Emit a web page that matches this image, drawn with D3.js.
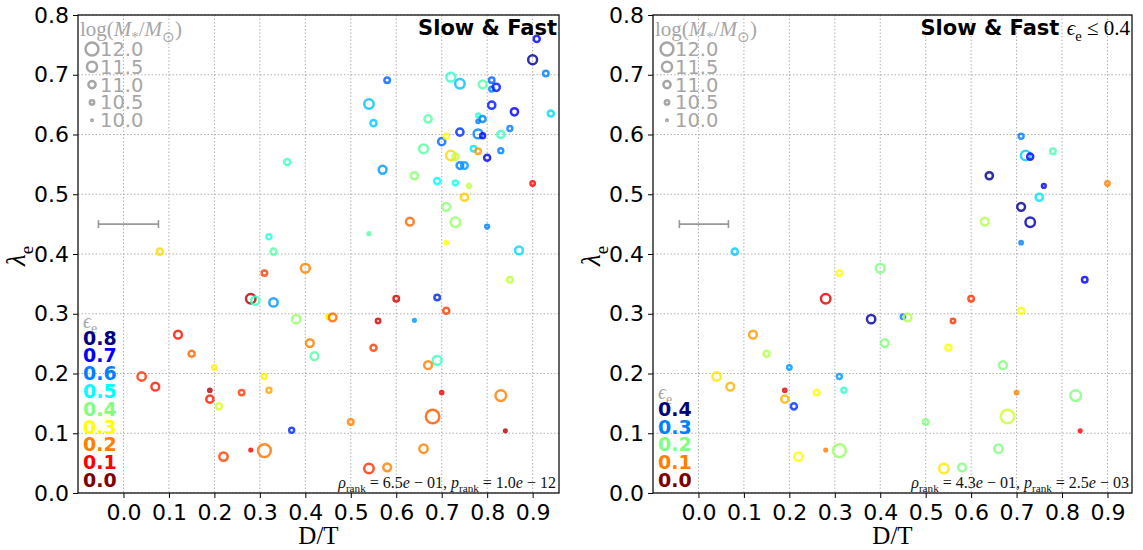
<!DOCTYPE html>
<html>
<head>
<meta charset="utf-8">
<script src="https://cdn.jsdelivr.net/npm/d3@7"></script>
<style>
  body { margin: 0; background: #fff; }
</style>
</head>
<body>
<div id="chart"></div>
<script>
// galaxy values: D/T, lambda_e, epsilon_e, log stellar mass
var dtValues = [0.909,0.900,0.929,0.580,0.720,0.740,0.790,0.810,0.810,0.820,
  0.540,0.810,0.860,0.940,0.550,0.670,0.780,0.790,0.780,0.850,
  0.740,0.780,0.790,0.830,0.700,0.710,0.660,0.770,0.780,0.830,
  0.720,0.730,0.800,0.360,0.740,0.750,0.570,0.640,0.690,0.730,
  0.760,0.900,0.750,0.710,0.730,0.630,0.540,0.800,0.710,0.870,
  0.320,0.330,0.080,0.400,0.310,0.850,0.280,0.290,0.330,0.600,
  0.690,0.380,0.450,0.460,0.560,0.640,0.710,0.120,0.150,0.410,
  0.420,0.550,0.690,0.670,0.040,0.070,0.200,0.310,0.190,0.190,
  0.210,0.260,0.320,0.700,0.830,0.680,0.500,0.370,0.840,0.280,
  0.310,0.220,0.660,0.540,0.580]
var lambdaValues = [0.760,0.725,0.702,0.691,0.696,0.685,0.684,0.691,0.676,0.679,
  0.651,0.649,0.638,0.635,0.619,0.626,0.632,0.626,0.622,0.610,
  0.604,0.601,0.598,0.600,0.588,0.597,0.576,0.576,0.572,0.573,
  0.565,0.563,0.561,0.554,0.548,0.548,0.541,0.531,0.522,0.519,
  0.514,0.518,0.495,0.479,0.453,0.454,0.434,0.446,0.419,0.406,
  0.429,0.404,0.404,0.376,0.368,0.357,0.325,0.322,0.319,0.325,
  0.327,0.291,0.295,0.294,0.288,0.289,0.305,0.265,0.233,0.251,
  0.229,0.243,0.222,0.214,0.195,0.178,0.210,0.195,0.172,0.157,
  0.145,0.168,0.172,0.168,0.163,0.128,0.119,0.105,0.104,0.072,
  0.071,0.061,0.074,0.041,0.043]
var epsValues = [0.70,0.78,0.60,0.62,0.46,0.55,0.43,0.62,0.60,0.68,
  0.55,0.68,0.70,0.53,0.54,0.43,0.47,0.60,0.60,0.60,
  0.66,0.60,0.70,0.45,0.62,0.30,0.43,0.52,0.22,0.60,
  0.27,0.35,0.72,0.45,0.60,0.58,0.58,0.39,0.50,0.48,
  0.35,0.10,0.26,0.39,0.38,0.18,0.43,0.60,0.30,0.53,
  0.47,0.43,0.27,0.20,0.15,0.35,0.04,0.45,0.58,0.07,
  0.67,0.38,0.30,0.18,0.07,0.58,0.15,0.11,0.18,0.20,
  0.43,0.15,0.45,0.20,0.14,0.12,0.29,0.29,0.04,0.12,
  0.33,0.15,0.23,0.10,0.20,0.17,0.20,0.67,0.05,0.10,
  0.19,0.15,0.20,0.14,0.20]
var massValues = [10.8,11.3,10.7,10.7,11.3,11.4,11.1,10.7,10.6,11.0,
  11.4,11.0,11.0,10.8,10.8,11.0,10.4,10.8,10.3,10.6,
  11.0,11.3,10.6,11.0,11.0,10.6,11.3,10.7,10.7,10.6,
  11.4,10.8,10.8,10.8,10.9,10.9,11.1,11.0,10.8,10.6,
  10.4,10.5,11.0,11.1,11.4,11.1,10.2,10.4,10.3,11.1,
  10.6,10.8,10.8,11.3,10.7,10.7,11.4,11.2,11.2,10.7,
  10.7,11.2,10.5,11.1,10.5,10.2,10.8,11.1,10.8,11.1,
  11.1,10.8,11.3,11.1,11.2,11.1,10.5,10.6,10.3,11.0,
  10.8,10.7,10.6,10.3,11.6,12.1,10.7,10.6,10.2,10.2,
  12.0,11.2,11.2,11.4,11.1]

var xTicks = [0.0,0.1,0.2,0.3,0.4,0.5,0.6,0.7,0.8,0.9]
var yTicks = [0.0,0.1,0.2,0.3,0.4,0.5,0.6,0.7,0.8]
var sizeLegend = [12.0,11.5,11.0,10.5,10.0]
var epsLegendLeft = [0.8,0.7,0.6,0.5,0.4,0.3,0.2,0.1,0.0]
var epsLegendRight = [0.4,0.3,0.2,0.1,0.0]
var epsCuts = [1.0, 0.4]           // which galaxies each panel keeps
var epsMax = [0.8, 0.4]            // top of the colour scale
var rhoText = ["6.5", "4.3"], rhoExp = ["01", "01"]
var pText = ["1.0", "2.5"], pExp = ["12", "03"]
var errCenter = [0.011, 0.012], errHalf = [0.066, 0.054]

var width = 1143, height = 550
var svg = d3.select("#chart").append("svg")
    .attr("width", width).attr("height", height)
    .style("font-family", "DejaVu Sans")

var mathFont = "Liberation Serif"
var grey = "#a6a6a6"

function jet(x) {
    var c = function(v) { return Math.max(0, Math.min(1, v)) }
    var r = c(Math.min(4*x - 1.5, -4*x + 4.5)),
        g = c(Math.min(4*x - 0.5, -4*x + 3.5)),
        b = c(Math.min(4*x + 0.5, -4*x + 2.5))
    return d3.rgb(r*255, g*255, b*255)
}

var sizeScale = d3.scaleLinear().domain([10, 12]).range([2, 7.7])
var ringWidth = 2.5
function ringR(m) { return Math.max(sizeScale(m) - ringWidth/2, 0.8) }

// bits of math text as tspans, subscripts shifted with dy
function mathText(sel, parts, fs) {
    var shift = 0
    parts.forEach(function(p) {
        var ts = sel.append("tspan").text(p.t)
        if (p.i) ts.attr("font-style", "italic")
        if (p.f) ts.attr("font-family", p.f)
        if (p.b) ts.attr("font-weight", "bold")
        var target = p.sub ? fs*0.28 : 0
        if (target !== shift) { ts.attr("dy", target - shift); shift = target }
        ts.attr("font-size", p.sub ? fs*0.7 : fs)
    })
}

var panels = [
    {x0: 78, x1: 559, xmax: 0.958},
    {x0: 653, x1: 1132, xmax: 0.954}
]
var y0 = 15, y1 = 493

panels.forEach(function(pn, k) {
    var x = d3.scaleLinear().domain([-0.1, pn.xmax]).range([pn.x0, pn.x1])
    var y = d3.scaleLinear().domain([0, 0.8]).range([y1, y0])
    var g = svg.append("g")

    // dotted grid
    g.selectAll(".gx").data(xTicks).enter().append("line")
        .attr("x1", d => x(d)).attr("x2", d => x(d))
        .attr("y1", y0).attr("y2", y1)
        .attr("stroke", "#b0b0b0").attr("stroke-dasharray", "1.5,2")
    g.selectAll(".gy").data(yTicks).enter().append("line")
        .attr("x1", pn.x0).attr("x2", pn.x1)
        .attr("y1", d => y(d)).attr("y2", d => y(d))
        .attr("stroke", "#b0b0b0").attr("stroke-dasharray", "1.5,2")

    // axes
    var ax = g.append("g").attr("transform", "translate(0," + y1 + ")")
        .call(d3.axisBottom(x).tickValues(xTicks).tickSize(5).tickPadding(6).tickFormat(d3.format(".1f")))
    var ay = g.append("g").attr("transform", "translate(" + pn.x0 + ",0)")
        .call(d3.axisLeft(y).tickValues(yTicks).tickSize(5).tickPadding(4).tickFormat(d3.format(".1f")))
    ;[ax, ay].forEach(function(a) {
        a.select(".domain").remove()
        a.selectAll("text").attr("font-family", "DejaVu Sans").attr("font-size", 22).attr("fill", "#000")
        a.selectAll("line").attr("stroke", "#000")
    })

    // error bar
    var ey = y(0.45), ea = x(errCenter[k] - errHalf[k]), eb = x(errCenter[k] + errHalf[k])
    g.append("line").attr("x1", ea).attr("x2", eb).attr("y1", ey).attr("y2", ey)
        .attr("stroke", "#999").attr("stroke-width", 1.6)
    ;[ea, eb].forEach(function(ex) {
        g.append("line").attr("x1", ex).attr("x2", ex).attr("y1", ey - 4).attr("y2", ey + 4)
            .attr("stroke", "#999").attr("stroke-width", 1.6)
    })

    // galaxies
    var pts = d3.range(dtValues.length).filter(i => epsValues[i] <= epsCuts[k])
    g.selectAll(".pt").data(pts).enter().append("circle")
        .attr("cx", i => x(dtValues[i]))
        .attr("cy", i => y(lambdaValues[i]))
        .attr("r", i => ringR(massValues[i]))
        .attr("fill", "none")
        .attr("stroke", i => jet(1 - epsValues[i]/epsMax[k]))
        .attr("stroke-opacity", 0.82)
        .attr("stroke-width", ringWidth)

    // frame
    g.append("rect").attr("x", pn.x0).attr("y", y0)
        .attr("width", pn.x1 - pn.x0).attr("height", y1 - y0)
        .attr("fill", "none").attr("stroke", "#111").attr("stroke-width", 1.3)

    // size legend
    var lx = pn.x0 + 2
    mathText(g.append("text").attr("x", lx).attr("y", 36).attr("fill", grey).attr("font-family", mathFont),
        [{t: "log("}, {t: "M", i: 1}, {t: "*", sub: 1}, {t: "/"}, {t: "M", i: 1}, {t: "\u2299", sub: 1}, {t: ")"}], 21)
    sizeLegend.forEach(function(m, j) {
        var ry = 49 + j*17.8
        g.append("circle").attr("cx", pn.x0 + 14).attr("cy", ry).attr("r", ringR(m))
            .attr("fill", "none").attr("stroke", grey).attr("stroke-width", ringWidth)
        g.append("text").attr("x", pn.x0 + 22).attr("y", ry + 7)
            .attr("font-size", 19.5).attr("fill", grey).text(m.toFixed(1))
    })

    // colour legend
    var cl = k === 0 ? epsLegendLeft : epsLegendRight
    var cy0 = 480 - (cl.length - 1)*17.8
    mathText(g.append("text").attr("x", pn.x0 + 5).attr("y", cy0 - 10).attr("fill", grey).attr("font-family", mathFont),
        [{t: "\u03f5", i: 1}, {t: "e", sub: 1}], 20)
    cl.forEach(function(v, j) {
        g.append("text").attr("x", pn.x0 + 5).attr("y", cy0 + j*17.8 + 7)
            .attr("font-size", 19).attr("font-weight", "bold")
            .attr("fill", jet(1 - v/epsMax[k])).text(v.toFixed(1))
    })

    // title
    var tt = g.append("text").attr("x", pn.x1 - 2).attr("y", 35).attr("text-anchor", "end")
    if (k === 0) {
        tt.attr("font-size", 21).attr("font-weight", "bold").text("Slow & Fast")
    } else {
        mathText(tt, [{t: "Slow & Fast ", b: 1, f: "DejaVu Sans"},
            {t: "\u03f5", i: 1, f: mathFont}, {t: "e", sub: 1, f: mathFont},
            {t: " \u2264 0.4", f: mathFont}], 21)
    }

    // rank correlation
    mathText(g.append("text").attr("x", pn.x1 - 3).attr("y", 488).attr("text-anchor", "end")
        .attr("font-family", mathFont).attr("fill", "#111"),
        [{t: "\u03c1", i: 1}, {t: "rank", sub: 1}, {t: " = " + rhoText[k]}, {t: "e", i: 1},
         {t: " \u2212 " + rhoExp[k] + ", "}, {t: "p", i: 1}, {t: "rank", sub: 1},
         {t: " = " + pText[k]}, {t: "e", i: 1}, {t: " \u2212 " + pExp[k]}], 16)

    // axis labels
    mathText(g.append("text").attr("x", (pn.x0 + pn.x1)/2).attr("y", 544).attr("text-anchor", "middle")
        .attr("font-family", mathFont), [{t: "D/T"}], 25)
    mathText(g.append("text").attr("transform", "translate(" + (pn.x0 - 53) + "," + 256 + ") rotate(-90)")
        .attr("text-anchor", "middle").attr("font-family", mathFont),
        [{t: "\u03bb", i: 1}, {t: "e", sub: 1}], 27)
})
</script>
</body>
</html>
